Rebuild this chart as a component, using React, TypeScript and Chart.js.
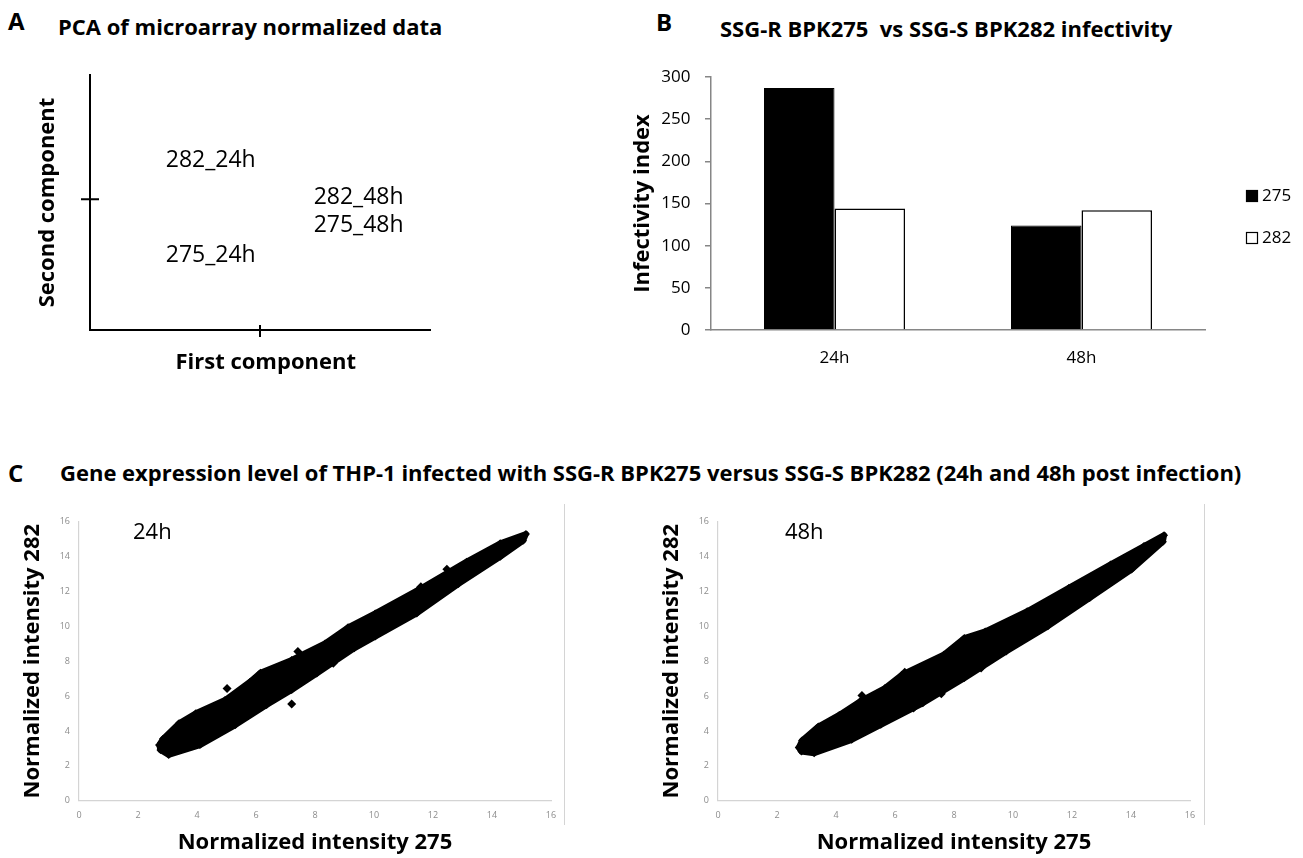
import React, { useEffect, useRef } from 'react';
import { Chart, registerables } from 'chart.js';

Chart.register(...registerables);

const FONT = "'Open Sans', 'DejaVu Sans', sans-serif";
Chart.defaults.font.family = FONT;

// ---------- Panel A : PCA ----------
const pcaLabels = ['282_24h', '282_48h', '275_48h', '275_24h'];
const pcaFirst = [-0.29, 0.58, 0.58, -0.29];
const pcaSecond = [0.3, 0.01, -0.2, -0.43];

// ---------- Panel B : infectivity ----------
const infCategories = ['24h', '48h'];
const inf275 = [287, 124];
const inf282 = [144, 142];
const infTicks = [0, 50, 100, 150, 200, 250, 300];

// ---------- Panel C : scatter clouds ----------
const intensityTicks = [0, 2, 4, 6, 8, 10, 12, 14, 16];

const upper24 = [
  [2.72, 3.2], [2.85, 3.55], [3.39, 4.44], [3.96, 5.01], [4.95, 5.77], [5.8, 6.82], [6.15, 7.34],
  [7.21, 8.07], [8.34, 9.02], [9.12, 9.94], [10.04, 10.74], [11.45, 12.04], [13.14, 13.71],
  [14.28, 14.76], [15.15, 15.29],
];
const lower24 = [
  [2.76, 2.91], [3.04, 2.62], [4.1, 3.19], [5.3, 4.34], [6.36, 5.49], [7.21, 6.35],
  [8.06, 7.3], [9.33, 8.74], [10.04, 9.41], [11.45, 10.74], [12.86, 12.43], [14.28, 13.99],
  [15.05, 14.91],
];
const outliers24 = [
  [5.02, 6.44], [7.21, 5.54], [7.42, 8.55], [8.62, 7.88], [11.59, 12.27], [12.47, 13.27],
];

const upper48 = [
  [2.74, 3.05], [2.85, 3.45], [3.4, 4.25], [4.11, 4.92], [4.81, 5.69], [5.66, 6.46], [6.23, 7.22],
  [7.65, 8.37], [8.35, 9.33], [9.06, 9.71], [10.48, 10.86], [11.89, 12.2], [13.31, 13.55],
  [14.44, 14.6], [15.12, 15.23],
];
const lower48 = [
  [2.83, 2.82], [3.26, 2.72], [4.53, 3.49], [5.52, 4.35], [6.94, 5.59], [8.35, 7.03],
  [9.77, 8.56], [11.18, 10.0], [12.6, 11.63], [14.02, 13.26], [15.08, 14.85],
];
const outliers48 = [
  [4.88, 6.04], [6.33, 7.36], [6.63, 5.31], [7.57, 6.13], [8.07, 7.03], [8.92, 7.61],
  [10.9, 9.95], [12.18, 11.53],
];

// ---------- helpers ----------
const toPts = (arr: number[][]) => arr.map(([x, y]) => ({ x, y }));
const cloudShape = (upper: number[][], lower: number[][]) => [
  ...toPts(upper),
  ...toPts([...lower].reverse()),
  ...toPts([upper[0]]),
];

function ChartBox({ make, left, top, width, height }: any) {
  const ref = useRef<HTMLCanvasElement>(null);
  useEffect(() => {
    const chart = new Chart(ref.current as HTMLCanvasElement, make());
    return () => chart.destroy();
  }, []);
  return (
    <canvas
      ref={ref}
      width={width}
      height={height}
      style={{ position: 'absolute', left, top, width, height }}
    />
  );
}

function Text({ x, y, size, bold, children }: any) {
  return (
    <div
      style={{
        position: 'absolute',
        left: x,
        top: y,
        transform: 'translateY(-50%)',
        fontFamily: FONT,
        fontSize: size,
        fontWeight: bold ? 700 : 400,
        whiteSpace: 'nowrap',
        color: '#000',
        lineHeight: 1.36,
      }}
    >
      {children}
    </div>
  );
}

// ---------- Chart A ----------
const pcaDecor = {
  id: 'pcaDecor',
  afterDatasetsDraw(chart: any) {
    const { ctx, scales, chartArea } = chart;
    ctx.save();
    ctx.strokeStyle = '#000';
    ctx.lineWidth = 2;
    const y0 = scales.y.getPixelForValue(0);
    const x0 = scales.x.getPixelForValue(0);
    ctx.beginPath();
    ctx.moveTo(chartArea.left - 9, y0);
    ctx.lineTo(chartArea.left + 9, y0);
    ctx.moveTo(x0, chartArea.bottom - 5);
    ctx.lineTo(x0, chartArea.bottom + 7);
    ctx.stroke();
    ctx.font = `23px ${FONT}`;
    ctx.fillStyle = '#000';
    ctx.textAlign = 'center';
    ctx.textBaseline = 'middle';
    const meta = chart.getDatasetMeta(0);
    meta.data.forEach((pt: any, i: number) => ctx.fillText(pcaLabels[i], pt.x, pt.y));
    ctx.restore();
  },
};

const makePca = () => ({
  type: 'scatter',
  data: {
    datasets: [
      {
        data: pcaFirst.map((x, i) => ({ x, y: pcaSecond[i] })),
        pointRadius: 0,
      },
    ],
  },
  options: {
    animation: false,
    responsive: false,
    events: [],
    layout: { padding: { left: 0, top: 35, right: 40, bottom: 0 } },
    plugins: { legend: { display: false }, tooltip: { enabled: false } },
    scales: {
      x: {
        type: 'linear',
        min: -1,
        max: 1,
        grid: { display: false, drawTicks: false },
        ticks: { display: false },
        border: { display: true, color: '#000', width: 2 },
        title: {
          display: true,
          text: '  First component',
          color: '#000',
          font: { family: FONT, size: 22, weight: 'bold' },
          padding: { top: 0, bottom: 4 },
        },
        afterFit: (s: any) => { s.height = 50; },
      },
      y: {
        type: 'linear',
        min: -1,
        max: 0.95,
        grid: { display: false, drawTicks: false },
        ticks: { display: false },
        border: { display: true, color: '#000', width: 2 },
        title: {
          display: true,
          text: 'Second component',
          color: '#000',
          font: { family: FONT, size: 22, weight: 'bold' },
          padding: { top: 35, bottom: 0 },
        },
        afterFit: (s: any) => { s.width = 90; },
      },
    },
  },
  plugins: [pcaDecor],
});

// ---------- Chart B ----------
const barLegend = {
  id: 'barLegend',
  afterDraw(chart: any) {
    const { ctx, chartArea } = chart;
    ctx.save();
    chart.data.datasets.forEach((ds: any, i: number) => {
      const sx = chartArea.right + 41;
      const sy = chartArea.top + 113 + i * 42;
      ctx.fillStyle = ds.backgroundColor;
      ctx.fillRect(sx, sy, 12, 12);
      ctx.strokeStyle = ds.borderColor;
      ctx.lineWidth = 1.2;
      ctx.strokeRect(sx + 0.5, sy + 0.5, 11, 11);
      ctx.fillStyle = '#000';
      ctx.font = `17px ${FONT}`;
      ctx.textAlign = 'left';
      ctx.textBaseline = 'middle';
      ctx.fillText(ds.label, sx + 16, sy + 6.5);
    });
    ctx.restore();
  },
};

const makeBars = () => ({
  type: 'bar',
  data: {
    labels: infCategories,
    datasets: [
      { label: '275', data: inf275, backgroundColor: '#000', borderColor: '#000', borderWidth: 1 },
      { label: '282', data: inf282, backgroundColor: '#fff', borderColor: '#000', borderWidth: 1.5 },
    ],
  },
  options: {
    animation: false,
    responsive: false,
    events: [],
    layout: { padding: { left: 0, top: 37, right: 98, bottom: 0 } },
    datasets: { bar: { categoryPercentage: 0.571, barPercentage: 1 } },
    plugins: { legend: { display: false }, tooltip: { enabled: false } },
    scales: {
      x: {
        grid: { display: false, drawTicks: false },
        border: { display: true, color: '#868686', width: 1.5 },
        ticks: { color: '#000', font: { family: FONT, size: 17 }, padding: 17.8 },
        afterFit: (s: any) => { s.height = 50; },
      },
      y: {
        min: 0,
        max: 300,
        afterBuildTicks: (s: any) => { s.ticks = infTicks.map((v) => ({ value: v })); },
        grid: { display: true, drawOnChartArea: false, drawTicks: true, tickLength: 6, color: '#868686', lineWidth: 1.5 },
        border: { display: true, color: '#868686', width: 1.5 },
        ticks: { color: '#000', font: { family: FONT, size: 17 }, padding: 14.5 },
        title: {
          display: true,
          text: 'Infectivity index',
          color: '#000',
          font: { family: FONT, size: 22, weight: 'bold' },
          padding: { top: 39.3, bottom: 0 },
        },
        afterFit: (s: any) => { s.width = 121; },
      },
    },
  },
  plugins: [barLegend],
});

// ---------- Chart C ----------
const makeScatter = (upper: number[][], lower: number[][], outliers: number[][], tag: string, tagX: number) => () => ({
  type: 'scatter',
  data: {
    datasets: [
      {
        data: cloudShape(upper, lower),
        showLine: true,
        fill: 'shape',
        backgroundColor: '#000',
        borderColor: '#000',
        borderWidth: 6,
        borderJoinStyle: 'round',
        pointStyle: 'rectRot',
        pointRadius: 4,
        pointBackgroundColor: '#000',
        pointBorderColor: '#000',
        pointBorderWidth: 0,
      },
      {
        data: toPts(outliers),
        pointStyle: 'rectRot',
        pointRadius: 4.5,
        pointBackgroundColor: '#000',
        pointBorderColor: '#000',
        pointBorderWidth: 0,
      },
    ],
  },
  options: {
    animation: false,
    responsive: false,
    events: [],
    layout: { padding: { left: 0, top: 26.7, right: 29, bottom: 0 } },
    plugins: { legend: { display: false }, tooltip: { enabled: false } },
    scales: {
      x: {
        type: 'linear',
        min: 0,
        max: 16,
        afterBuildTicks: (s: any) => { s.ticks = intensityTicks.map((v) => ({ value: v })); },
        grid: { display: false, drawTicks: false },
        border: { display: true, color: '#d4d4d4', width: 1.2 },
        ticks: { color: '#8c8c8c', font: { family: FONT, size: 9 }, padding: 8.9 },
        title: {
          display: true,
          text: 'Normalized intensity 275',
          color: '#000',
          font: { family: FONT, size: 22, weight: 'bold' },
          padding: { top: 0, bottom: 1.8 },
        },
        afterFit: (s: any) => { s.height = 57.3; },
      },
      y: {
        type: 'linear',
        min: 0,
        max: 16,
        afterBuildTicks: (s: any) => { s.ticks = intensityTicks.map((v) => ({ value: v })); },
        grid: { display: false, drawTicks: false },
        border: { display: true, color: '#d4d4d4', width: 1.2 },
        ticks: { color: '#8c8c8c', font: { family: FONT, size: 9 }, padding: 9 },
        title: {
          display: true,
          text: 'Normalized intensity 282',
          color: '#000',
          font: { family: FONT, size: 22, weight: 'bold' },
          padding: { top: 19.8, bottom: 0 },
        },
        afterFit: (s: any) => { s.width = 79; },
      },
    },
  },
  plugins: [
    {
      id: 'tag',
      afterDatasetsDraw(chart: any) {
        const { ctx, scales } = chart;
        ctx.save();
        ctx.font = `22px ${FONT}`;
        ctx.fillStyle = '#000';
        ctx.textAlign = 'left';
        ctx.textBaseline = 'middle';
        ctx.fillText(tag, scales.x.getPixelForValue(tagX), scales.y.getPixelForValue(15.35));
        ctx.restore();
      },
    },
  ],
});

export default function App() {
  return (
    <div
      style={{
        position: 'fixed',
        left: 0,
        top: 0,
        width: 1303,
        height: 858,
        background: '#fff',
        overflow: 'hidden',
      }}
    >
      <Text x={8} y={21} size={24} bold>A</Text>
      <Text x={58} y={27} size={22} bold>PCA of microarray normalized data</Text>
      <Text x={656} y={22} size={24} bold>B</Text>
      <Text x={720} y={29} size={22} bold>SSG-R BPK275&nbsp; vs SSG-S BPK282 infectivity</Text>
      <Text x={8} y={473} size={24} bold>C</Text>
      <Text x={60} y={473} size={22} bold>
        Gene expression level of THP-1 infected with SSG-R BPK275 versus SSG-S BPK282 (24h and 48h post infection)
      </Text>

      <ChartBox make={makePca} left={0} top={40} width={470} height={340} />
      <ChartBox make={makeBars} left={590} top={40} width={713} height={340} />
      <ChartBox make={makeScatter(upper24, lower24, outliers24, '24h', 1.83)} left={0} top={495} width={580} height={363} />
      <ChartBox make={makeScatter(upper48, lower48, outliers48, '48h', 2.27)} left={639} top={495} width={580} height={363} />

      <div style={{ position: 'absolute', left: 564, top: 504, width: 1, height: 321, background: '#d4d4d4' }} />
      <div style={{ position: 'absolute', left: 1204, top: 504, width: 1, height: 321, background: '#d4d4d4' }} />
    </div>
  );
}
